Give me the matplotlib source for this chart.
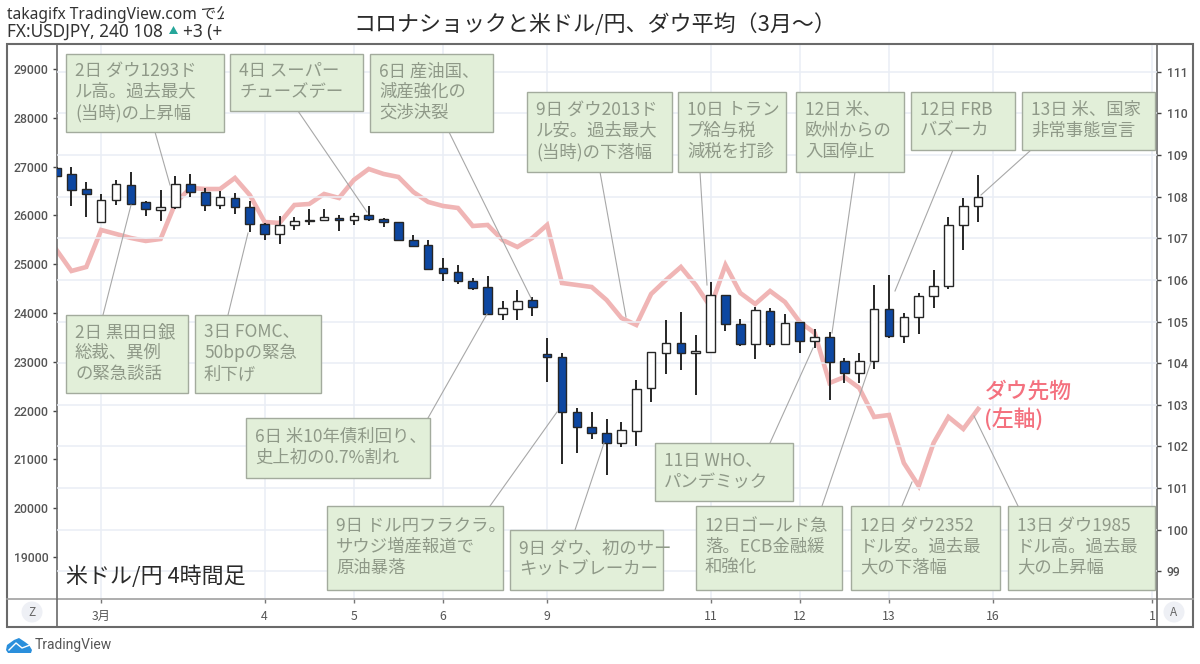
import matplotlib
matplotlib.use("Agg")
import matplotlib.pyplot as plt
from matplotlib.patches import Rectangle, Circle, Polygon

plt.rcParams["font.family"] = ["Noto Sans CJK JP", "DejaVu Sans"]

# USD/JPY 4h candles (one entry per candle)
opens = [108.69, 108.55, 108.19, 107.39, 107.92, 108.28, 107.87, 107.68, 107.75, 108.31,
         108.11, 107.80, 107.97, 107.75, 107.34, 107.10, 107.32, 107.44, 107.44, 107.49,
         107.44, 107.56, 107.46, 107.39, 106.96, 106.84, 106.29, 106.19, 105.97, 105.83,
         105.18, 105.30, 105.52, 104.22, 104.15, 102.83, 102.47, 102.32, 102.08, 102.37,
         103.40, 104.24, 104.49, 104.24, 104.27, 105.64, 104.94, 104.46, 105.25, 104.46,
         104.99, 104.53, 104.63, 104.05, 103.76, 104.05, 105.30, 104.65, 105.11, 105.61,
         105.85, 107.32, 107.78]
closes = [108.50, 108.16, 108.07, 107.92, 108.31, 107.83, 107.70, 107.75, 108.31, 108.11,
          107.80, 107.99, 107.75, 107.34, 107.10, 107.32, 107.42, 107.42, 107.51, 107.44,
          107.54, 107.46, 107.39, 106.96, 106.82, 106.26, 106.17, 105.97, 105.81, 105.18,
          105.33, 105.49, 105.35, 104.15, 102.83, 102.47, 102.32, 102.08, 102.39, 103.38,
          104.27, 104.49, 104.24, 104.29, 105.64, 104.94, 104.46, 105.28, 104.46, 104.97,
          104.53, 104.63, 104.03, 103.76, 104.05, 105.30, 104.65, 105.11, 105.61, 105.85,
          107.32, 107.78, 107.99]
highs = [108.72, 108.72, 108.35, 108.07, 108.40, 108.60, 107.90, 108.16, 108.50, 108.55,
         108.21, 108.14, 108.09, 107.90, 107.37, 107.54, 107.51, 107.70, 107.70, 107.56,
         107.61, 107.78, 107.49, 107.39, 107.08, 106.96, 106.53, 106.36, 106.05, 106.10,
         105.49, 105.76, 105.59, 104.60, 104.24, 102.92, 102.83, 102.66, 102.59, 103.60,
         104.27, 105.04, 105.23, 104.68, 105.95, 105.64, 105.06, 105.35, 105.33, 105.18,
         104.99, 104.82, 104.75, 104.12, 104.24, 105.88, 106.12, 105.20, 105.69, 106.24,
         107.51, 107.97, 108.52]
lows = [108.48, 107.78, 107.51, 107.37, 107.80, 107.80, 107.54, 107.42, 107.70, 107.99,
        107.66, 107.70, 107.59, 107.15, 106.96, 106.86, 107.20, 107.32, 107.42, 107.18,
        107.32, 107.42, 107.27, 106.94, 106.82, 106.26, 105.97, 105.90, 105.76, 105.18,
        105.04, 105.04, 105.13, 103.55, 101.58, 101.84, 102.18, 101.31, 101.98, 102.01,
        103.07, 103.74, 103.84, 103.23, 104.27, 104.77, 104.41, 104.10, 104.39, 104.44,
        104.24, 104.36, 103.11, 103.52, 103.52, 103.86, 104.60, 104.48, 104.70, 105.33,
        105.78, 106.72, 107.39]

# Dow futures, left axis
dow = [25292, 24861, 24943, 25701, 25620, 25537, 25476, 25517, 26255, 26562,
       26541, 26541, 26767, 26418, 25865, 25845, 26213, 26234, 26439, 26357,
       26726, 26951, 26849, 26787, 26480, 26275, 26193, 26152, 25783, 25804,
       25496, 25353, 25537, 25804, 24615, 24574, 24533, 24267, 23898, 23755,
       24390, 24677, 24943, 24574, 24123, 24984, 24410, 24185, 24451, 24226,
       23816, 23591, 22566, 22689, 22464, 21870, 21910, 20927, 20456, 21337,
       21870, 21624, 22034]

left_ticks = [19000, 20000, 21000, 22000, 23000, 24000, 25000, 26000, 27000, 28000, 29000]
right_ticks = [99, 100, 101, 102, 103, 104, 105, 106, 107, 108, 109, 110, 111]
x_ticks = [3, 14, 20, 26, 33, 44, 50, 56, 63, 73.7]
x_labels = ["3月", "4", "5", "6", "9", "11", "12", "13", "16", "1"]

# callouts: text, box (x0, y0, x1, y1) in image pixels, leader (x0, y0, x1, y1)
note_texts = [
    "2日 ダウ1293ド\nル高。過去最大\n(当時)の上昇幅",
    "4日 スーパー\nチューズデー",
    "6日 産油国、\n減産強化の\n交渉決裂",
    "9日 ダウ2013ド\nル安。過去最大\n(当時)の下落幅",
    "10日 トラン\nプ給与税\n減税を打診",
    "12日 米、\n欧州からの\n入国停止",
    "12日 FRB\nバズーカ",
    "13日 米、国家\n非常事態宣言",
    "2日 黒田日銀\n総裁、異例\nの緊急談話",
    "3日 FOMC、\n50bpの緊急\n利下げ",
    "6日 米10年債利回り、\n史上初の0.7%割れ",
    "9日 ドル円フラクラ。\nサウジ増産報道で\n原油暴落",
    "9日 ダウ、初のサー\nキットブレーカー",
    "11日 WHO、\nパンデミック",
    "12日ゴールド急\n落。ECB金融緩\n和強化",
    "12日 ダウ2352\nドル安。過去最\n大の下落幅",
    "13日 ダウ1985\nドル高。過去最\n大の上昇幅",
]
note_boxes = [
    (66, 54, 224, 132), (230, 54, 363, 111), (370, 54, 493, 132), (527, 92, 672, 172),
    (678, 92, 786, 172), (796, 92, 904, 172), (911, 92, 1015, 150), (1022, 92, 1155, 150),
    (66, 315, 188, 393), (195, 315, 321, 393), (246, 418, 430, 478), (327, 506, 503, 590),
    (510, 530, 663, 590), (655, 443, 793, 501), (696, 506, 842, 590), (851, 506, 1000, 590),
    (1008, 506, 1155, 590),
]
note_leaders = [
    (155, 132, 170, 185), (298, 111, 367, 212), (449, 132, 531, 298), (600, 172, 626, 317),
    (700, 172, 707, 285), (855, 172, 832, 333), (953, 150, 895, 291), (1031, 150, 981, 195),
    (103, 315, 131, 205), (228, 315, 248, 233), (428, 418, 487, 314), (490, 506, 557, 412),
    (575, 530, 604, 443), (770, 443, 813, 348), (822, 506, 871, 362), (902, 506, 912, 482),
    (1018, 506, 974, 416),
]

GRID = "#eaeef5"
FRAME = "#6a6a6a"
TICK_TEXT = "#555555"
CANDLE_EDGE = "#262626"
CANDLE_BLUE = "#0d47a1"

fig = plt.figure(figsize=(12, 6.64), dpi=100)

# left axis holds the Dow line, right axis draws the candles on top of it
ax_dow = fig.add_axes([57 / 1200, 1 - 599 / 664, 1100 / 1200, 555 / 664])
ax_usd = ax_dow.twinx()
ax_dow.set_xlim(0.03, 74.03)
ax_dow.set_ylim(18140, 29512)
ax_usd.set_ylim(98.33, 111.67)

ax_usd.set_axisbelow(True)
ax_usd.grid(True, axis="y", color=GRID, lw=1.1)
ax_dow.grid(True, axis="x", color=GRID, lw=1.1)

ax_dow.plot(range(len(dow)), dow, color="#f0b5b5", lw=3.3, solid_joinstyle="miter", zorder=2)

x = list(range(len(opens)))
ax_usd.vlines(x, lows, highs, color=CANDLE_EDGE, lw=1.4, zorder=3)
for i in x:
    up = closes[i] >= opens[i]
    ax_usd.bar(i, abs(closes[i] - opens[i]), bottom=min(opens[i], closes[i]), width=0.58,
               facecolor="white" if up else CANDLE_BLUE, edgecolor=CANDLE_EDGE, lw=1.0, zorder=4)

ax_dow.set_yticks(left_ticks)
ax_usd.set_yticks(right_ticks)
ax_dow.set_xticks(x_ticks)
ax_dow.set_xticklabels(x_labels)
ax_dow.tick_params(axis="y", length=3, width=1, color="#444444", labelsize=8.8, labelcolor=TICK_TEXT, pad=3)
ax_usd.tick_params(axis="y", length=3, width=1, color="#444444", labelsize=8.8, labelcolor=TICK_TEXT, pad=4)
ax_dow.tick_params(axis="x", length=3, width=1, color="#777777", labelsize=8.8, labelcolor=TICK_TEXT, pad=5)
for label in ax_dow.get_yticklabels() + ax_usd.get_yticklabels():
    label.set_fontfamily("Roboto")
    label.set_fontweight("medium")
for spine in ax_usd.spines.values():
    spine.set_visible(False)
for spine in ax_dow.spines.values():
    spine.set_color(FRAME)
    spine.set_linewidth(1.2)
ax_dow.spines["top"].set_visible(False)
ax_dow.spines["bottom"].set_color("#a0a0a0")

# overlay in image pixels for the frame, callouts and header
over = fig.add_axes([0, 0, 1, 1], zorder=10)
over.set_xlim(0, 1200)
over.set_ylim(664, 0)
over.axis("off")

over.add_patch(Rectangle((7, 44), 1186, 583, fill=False, edgecolor=FRAME, lw=1.5))
over.plot([7, 57], [599, 599], color="#a0a0a0", lw=1.2)
over.plot([1157, 1193], [599, 599], color="#a0a0a0", lw=1.2)
over.plot([57, 57], [599, 627], color=FRAME, lw=1.2)
over.plot([1157, 1157], [599, 627], color=FRAME, lw=1.2)

for leader in note_leaders:
    over.plot([leader[0], leader[2]], [leader[1], leader[3]], color="#a8a8a8", lw=0.8)

for text, box in zip(note_texts, note_boxes):
    over.add_patch(Rectangle((box[0], box[1]), box[2] - box[0], box[3] - box[1],
                             facecolor="#e2efd9", edgecolor="#a3ab9d", lw=1.0, zorder=5))
    over.text(box[0] + 9, (box[1] + box[3]) / 2 - 1, text, fontsize=12.5, color="#8f9988",
              ha="left", va="center", linespacing=1.2, zorder=6)

over.text(353, 25, "コロナショックと米ドル/円、ダウ平均（3月～）", fontsize=15.8, color="#2a2a2a",
          ha="left", va="center")
over.text(66, 577, "米ドル/円 4時間足", fontsize=15.8, color="#2a2a2a", ha="left", va="center", zorder=6)
over.text(985, 392, "ダウ先物", fontsize=15.7, color="#f4717f", ha="left", va="center", fontweight="medium")
over.text(984, 420, "(左軸)", fontsize=15.7, color="#f4717f", ha="left", va="center", fontweight="medium")

# header is cut off on the right, same as the screenshot
clip = Rectangle((5, 0), 219, 44, transform=over.transData)
t1 = over.text(7, 15, "takagifx TradingView.com で公", fontsize=11.2, family=["Noto Sans", "Noto Sans CJK JP"],
               color="#333333", ha="left", va="center", clip_on=True)
over.text(7, 32, "FX:USDJPY, 240 108", fontsize=12.4, family="Noto Sans", color="#333333", ha="left", va="center")
t3 = over.text(183, 32, "+3 (+", fontsize=12.4, family="Noto Sans", color="#333333", ha="left", va="center", clip_on=True)
t1.set_clip_path(clip)
t3.set_clip_path(clip)
over.add_patch(Polygon([(169, 34), (178, 34), (173.5, 26)], facecolor="#26a69a", edgecolor="none"))

# Z and A buttons
for cx, letter in [(32, "Z"), (1174, "A")]:
    over.add_patch(Circle((cx, 612), 10.5, facecolor="#eef0f5", edgecolor="none"))
    over.text(cx, 612, letter, fontsize=8.5, color="#666666", ha="center", va="center")

# TradingView logo
over.add_patch(Polygon([(6, 650), (7, 645), (14, 640), (19, 638), (25, 642), (29, 645), (32, 650), (31, 653), (8, 653)],
                       facecolor="#2a8fdc", edgecolor="none"))
over.plot([9, 16, 22, 30], [650, 643, 648, 645], color="white", lw=1.0)
over.text(35, 645, "TradingView", fontsize=10, color="#555555", family="Roboto", ha="left", va="center")

fig.savefig("out.png", dpi=100)
